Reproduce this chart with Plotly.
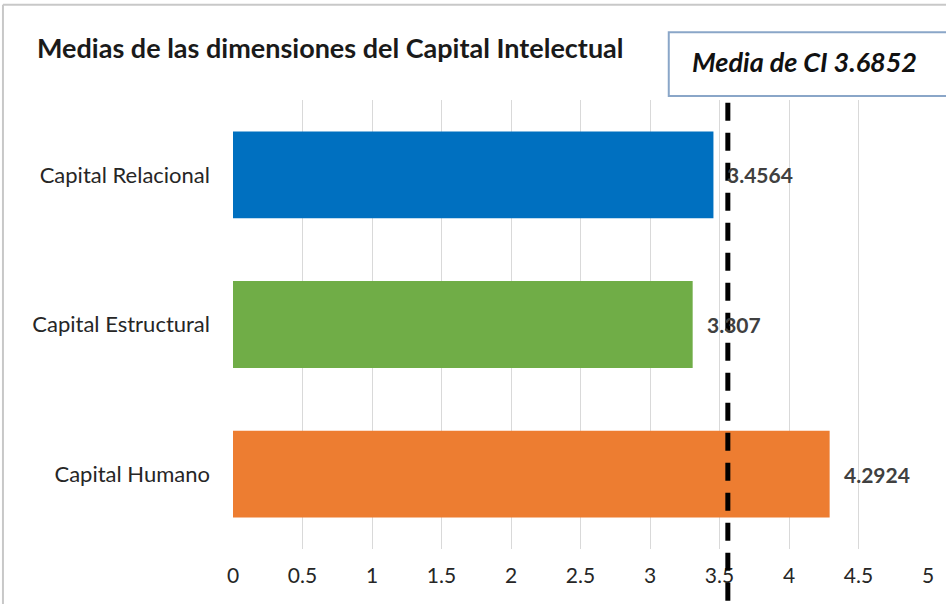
import plotly.graph_objects as go

categories = ["Capital Humano", "Capital Estructural", "Capital Relacional"]
values = [4.2924, 3.307, 3.4564]
value_labels = ["4.2924", "3.307", "3.4564"]
bar_colors = ["#ED7D31", "#70AD47", "#0070C0"]
x_ticks = [0, 0.5, 1, 1.5, 2, 2.5, 3, 3.5, 4, 4.5, 5]
x_tick_labels = ["0", "0.5", "1", "1.5", "2", "2.5", "3", "3.5", "4", "4.5", "5"]
mean_line_x = 3.56
mean_label = "Media de CI 3.6852"
title_text = "Medias de las dimensiones del Capital Intelectual"

FONT = "Lato, Open Sans, sans-serif"

fig = go.Figure(go.Bar(
    y=categories, x=values, orientation="h",
    marker=dict(color=bar_colors, line=dict(width=0)),
    hoverinfo="skip",
))

annotations = [
    dict(text=title_text, xref="paper", yref="paper", x=-0.285, y=1.118,
         xanchor="left", yanchor="middle", showarrow=False,
         font=dict(family=FONT, size=27, color="#1a1a1a", weight="bold")),
    dict(text="<i>" + mean_label + "</i>", xref="paper", yref="paper",
         x=0.822, y=1.085, xanchor="center", yanchor="middle", showarrow=False,
         font=dict(family=FONT, size=27, color="#111111", weight="bold")),
]
for cat, val, lab in zip(categories, values, value_labels):
    annotations.append(dict(text=lab, x=val, y=cat, xref="x", yref="y",
                            xanchor="left", yanchor="middle", xshift=12,
                            showarrow=False,
                            font=dict(family=FONT, size=21, color="#404040",
                                      weight="bold")))

fig.update_layout(
    width=946, height=604,
    margin=dict(l=233, r=16, t=100, b=55),
    paper_bgcolor="white", plot_bgcolor="white",
    showlegend=False, bargap=0.42,
    font=dict(family=FONT),
    xaxis=dict(range=[0, 5], tickvals=x_ticks, ticktext=x_tick_labels,
               showgrid=True, gridcolor="#d9d9d9", gridwidth=1,
               zeroline=False, showline=False, ticks="",
               ticklabelstandoff=12,
               tickfont=dict(family=FONT, size=21, color="#262626"),
               fixedrange=True),
    yaxis=dict(range=[-0.5, 2.5], showgrid=False, zeroline=False, showline=False,
               ticks="", ticklabelstandoff=22,
               tickfont=dict(family=FONT, size=22, color="#262626"),
               fixedrange=True),
    shapes=[
        dict(type="line", xref="x", yref="paper", x0=mean_line_x, x1=mean_line_x,
             y0=-0.115, y1=1.008, line=dict(color="black", width=5, dash="18px,12px")),
        dict(type="rect", xref="paper", yref="paper", x0=0.627, x1=1.03,
             y0=1.009, y1=1.151, line=dict(color="#8aa6c8", width=2),
             fillcolor="white"),
        dict(type="line", xref="paper", yref="paper", x0=-0.331, x1=-0.331,
             y0=-0.2, y1=1.212, line=dict(color="#c8c8c8", width=2)),
        dict(type="line", xref="paper", yref="paper", x0=-0.331, x1=1.03,
             y0=1.212, y1=1.212, line=dict(color="#c8c8c8", width=2)),
    ],
    annotations=annotations,
)

fig.write_html("out.html")
